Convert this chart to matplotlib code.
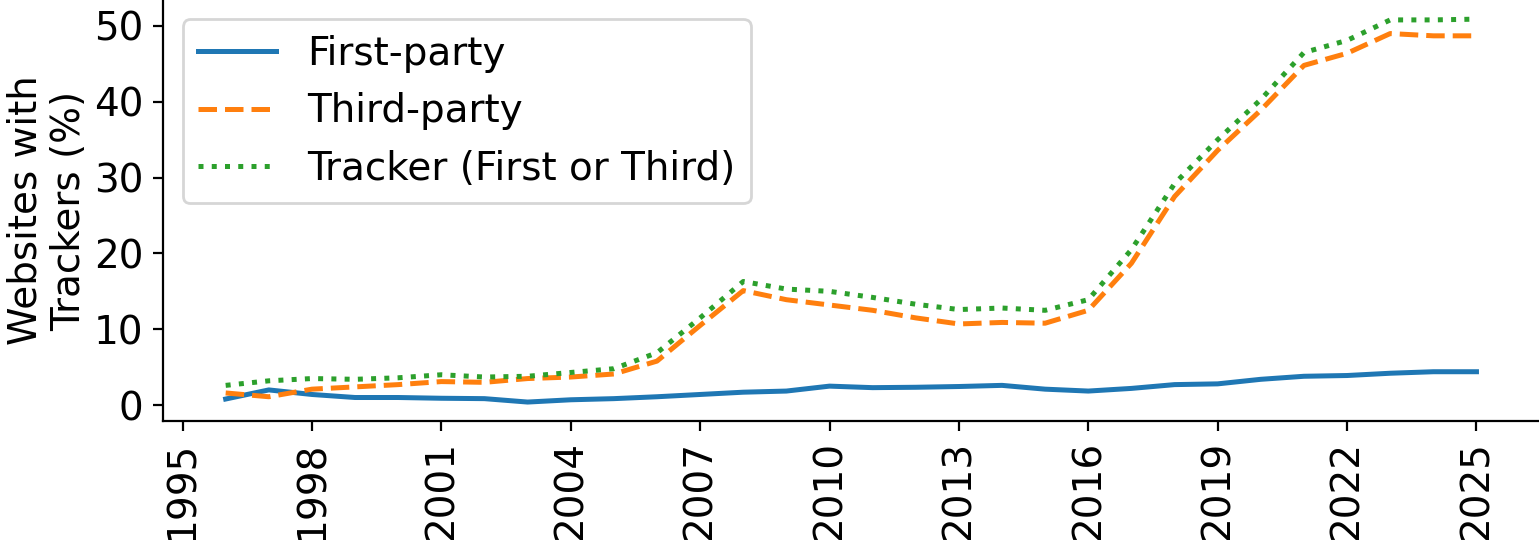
import matplotlib
matplotlib.use("Agg")
import matplotlib.pyplot as plt
from matplotlib.ticker import MultipleLocator

years = list(range(1996, 2026))

first_party = [0.8, 2.0, 1.4, 1.0, 1.0, 0.9, 0.85, 0.4, 0.7, 0.85,
               1.1, 1.4, 1.7, 1.85, 2.5, 2.3, 2.35, 2.45, 2.6, 2.1,
               1.85, 2.2, 2.7, 2.8, 3.4, 3.8, 3.9, 4.2, 4.4, 4.4]

third_party = [1.6, 1.1, 2.1, 2.4, 2.7, 3.1, 3.0, 3.5, 3.7, 4.1,
               5.8, 10.5, 15.1, 13.9, 13.2, 12.5, 11.5, 10.7, 10.9, 10.8,
               12.5, 18.7, 27.5, 33.6, 38.9, 44.8, 46.4, 49.0, 48.7, 48.7]

tracker = [2.6, 3.2, 3.5, 3.4, 3.6, 4.0, 3.7, 3.8, 4.3, 4.8,
           6.9, 11.5, 16.3, 15.3, 15.0, 14.2, 13.3, 12.6, 12.8, 12.5,
           13.9, 20.5, 29.2, 35.0, 40.3, 46.5, 48.1, 50.8, 50.8, 50.9]

plt.rcParams['font.size'] = 14

fig = plt.figure(figsize=(7.695, 2.7), dpi=200)
ax = fig.add_axes([0.106, 0.22, 0.894, 0.78])

ax.plot(years, first_party, '-', color='tab:blue', lw=1.8, label="First-party")
ax.plot(years, third_party, '--', color='tab:orange', lw=1.8, label="Third-party")
ax.plot(years, tracker, ':', color='tab:green', lw=1.8, label="Tracker (First or Third)")

ax.xaxis.set_major_locator(MultipleLocator(3))
ax.yaxis.set_major_locator(MultipleLocator(10))
ax.tick_params(axis='x', labelrotation=90)
ax.set_ylabel("Websites with\nTrackers (%)", labelpad=2)
ax.spines['top'].set_visible(False)
ax.spines['right'].set_visible(False)
ax.legend(loc='upper left')

fig.savefig("out.png", dpi=200)
plt.close()
